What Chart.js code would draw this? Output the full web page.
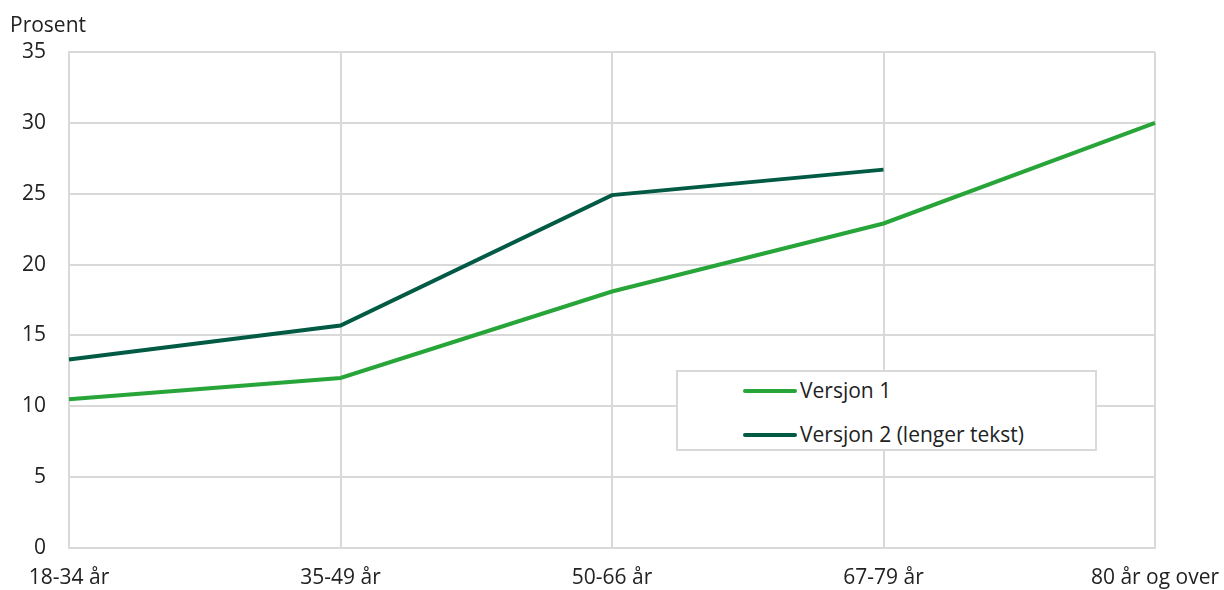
<!DOCTYPE html>
<html>
<head>
<meta charset="utf-8">
<script src="https://cdn.jsdelivr.net/npm/chart.js@4/dist/chart.umd.min.js"></script>
<style>
  html, body { margin: 0; padding: 0; background: #fff; overflow: hidden; }
  #wrap { position: relative; width: 1224px; height: 590px; font-family: "Open Sans", sans-serif; }
  #c { display: block; position: absolute; left: 0; top: 0; }
  #unit { position: absolute; left: 10px; top: 12px; font-size: 21px; line-height: 24px; color: #222; }
  #legend { position: absolute; left: 676px; top: 370px; width: 417px; height: 77px; border: 2px solid #d9d9d9; background: #fff; }
  .item { position: absolute; left: 65px; height: 24px; font-size: 21px; line-height: 24px; color: #222; white-space: nowrap; }
  .swatch { display: inline-block; width: 54px; height: 4px; border-radius: 2px; vertical-align: middle; margin-right: 3px; position: relative; top: -1px; }
</style>
</head>
<body>
<div id="wrap">
  <canvas id="c" width="1224" height="590"></canvas>
  <div id="unit">Prosent</div>
  <div id="legend"></div>
</div>
<script>
const categories = ["18-34 år", "35-49 år", "50-66 år", "67-79 år", "80 år og over"];
const versjon1 = [10.5, 12.0, 18.1, 22.9, 30.0];
const versjon2 = [13.3, 15.7, 24.9, 26.7, null];
const seriesLabels = ["Versjon 1", "Versjon 2 (lenger tekst)"];
const seriesColors = ["#27a539", "#005a44"];
const yTicks = [0, 5, 10, 15, 20, 25, 30, 35];

const FONT = { family: "'Open Sans', sans-serif", size: 21 };

const chart = new Chart(document.getElementById('c'), {
  type: 'line',
  data: {
    labels: categories,
    datasets: [versjon1, versjon2].map((d, i) => ({
      label: seriesLabels[i],
      data: d,
      borderColor: seriesColors[i],
      backgroundColor: seriesColors[i],
      borderWidth: 4,
      pointRadius: 0,
      pointHoverRadius: 0,
      tension: 0,
      spanGaps: false,
      fill: false
    }))
  },
  options: {
    responsive: false,
    devicePixelRatio: 1,
    animation: false,
    layout: { padding: { left: 0, right: 69, top: 52, bottom: 0 } },
    plugins: { legend: { display: false }, tooltip: { enabled: false } },
    scales: {
      x: {
        offset: false,
        grid: { color: '#d9d9d9', lineWidth: 2, drawTicks: false },
        border: { color: '#d9d9d9', width: 2 },
        ticks: { color: '#222', font: FONT, padding: 17, maxRotation: 0, autoSkip: false },
        afterFit: s => { s.height = 42; s.paddingLeft = 0; s.paddingRight = 0; }
      },
      y: {
        min: 0, max: 35,
        afterBuildTicks: s => { s.ticks = yTicks.map(v => ({ value: v })); },
        afterFit: s => { s.width = 69; s.paddingTop = 0; s.paddingBottom = 0; },
        grid: { color: '#d9d9d9', lineWidth: 2, drawTicks: false },
        border: { color: '#d9d9d9', width: 2 },
        ticks: { color: '#222', font: FONT, padding: 23 }
      }
    }
  }
});

const leg = document.getElementById('legend');
const rowsTop = [6, 50];
chart.data.datasets.forEach((ds, i) => {
  const it = document.createElement('div');
  it.className = 'item';
  it.style.top = rowsTop[i] + 'px';
  const sw = document.createElement('span');
  sw.className = 'swatch';
  sw.style.background = ds.borderColor;
  it.appendChild(sw);
  it.appendChild(document.createTextNode(ds.label));
  leg.appendChild(it);
});
</script>
</body>
</html>
